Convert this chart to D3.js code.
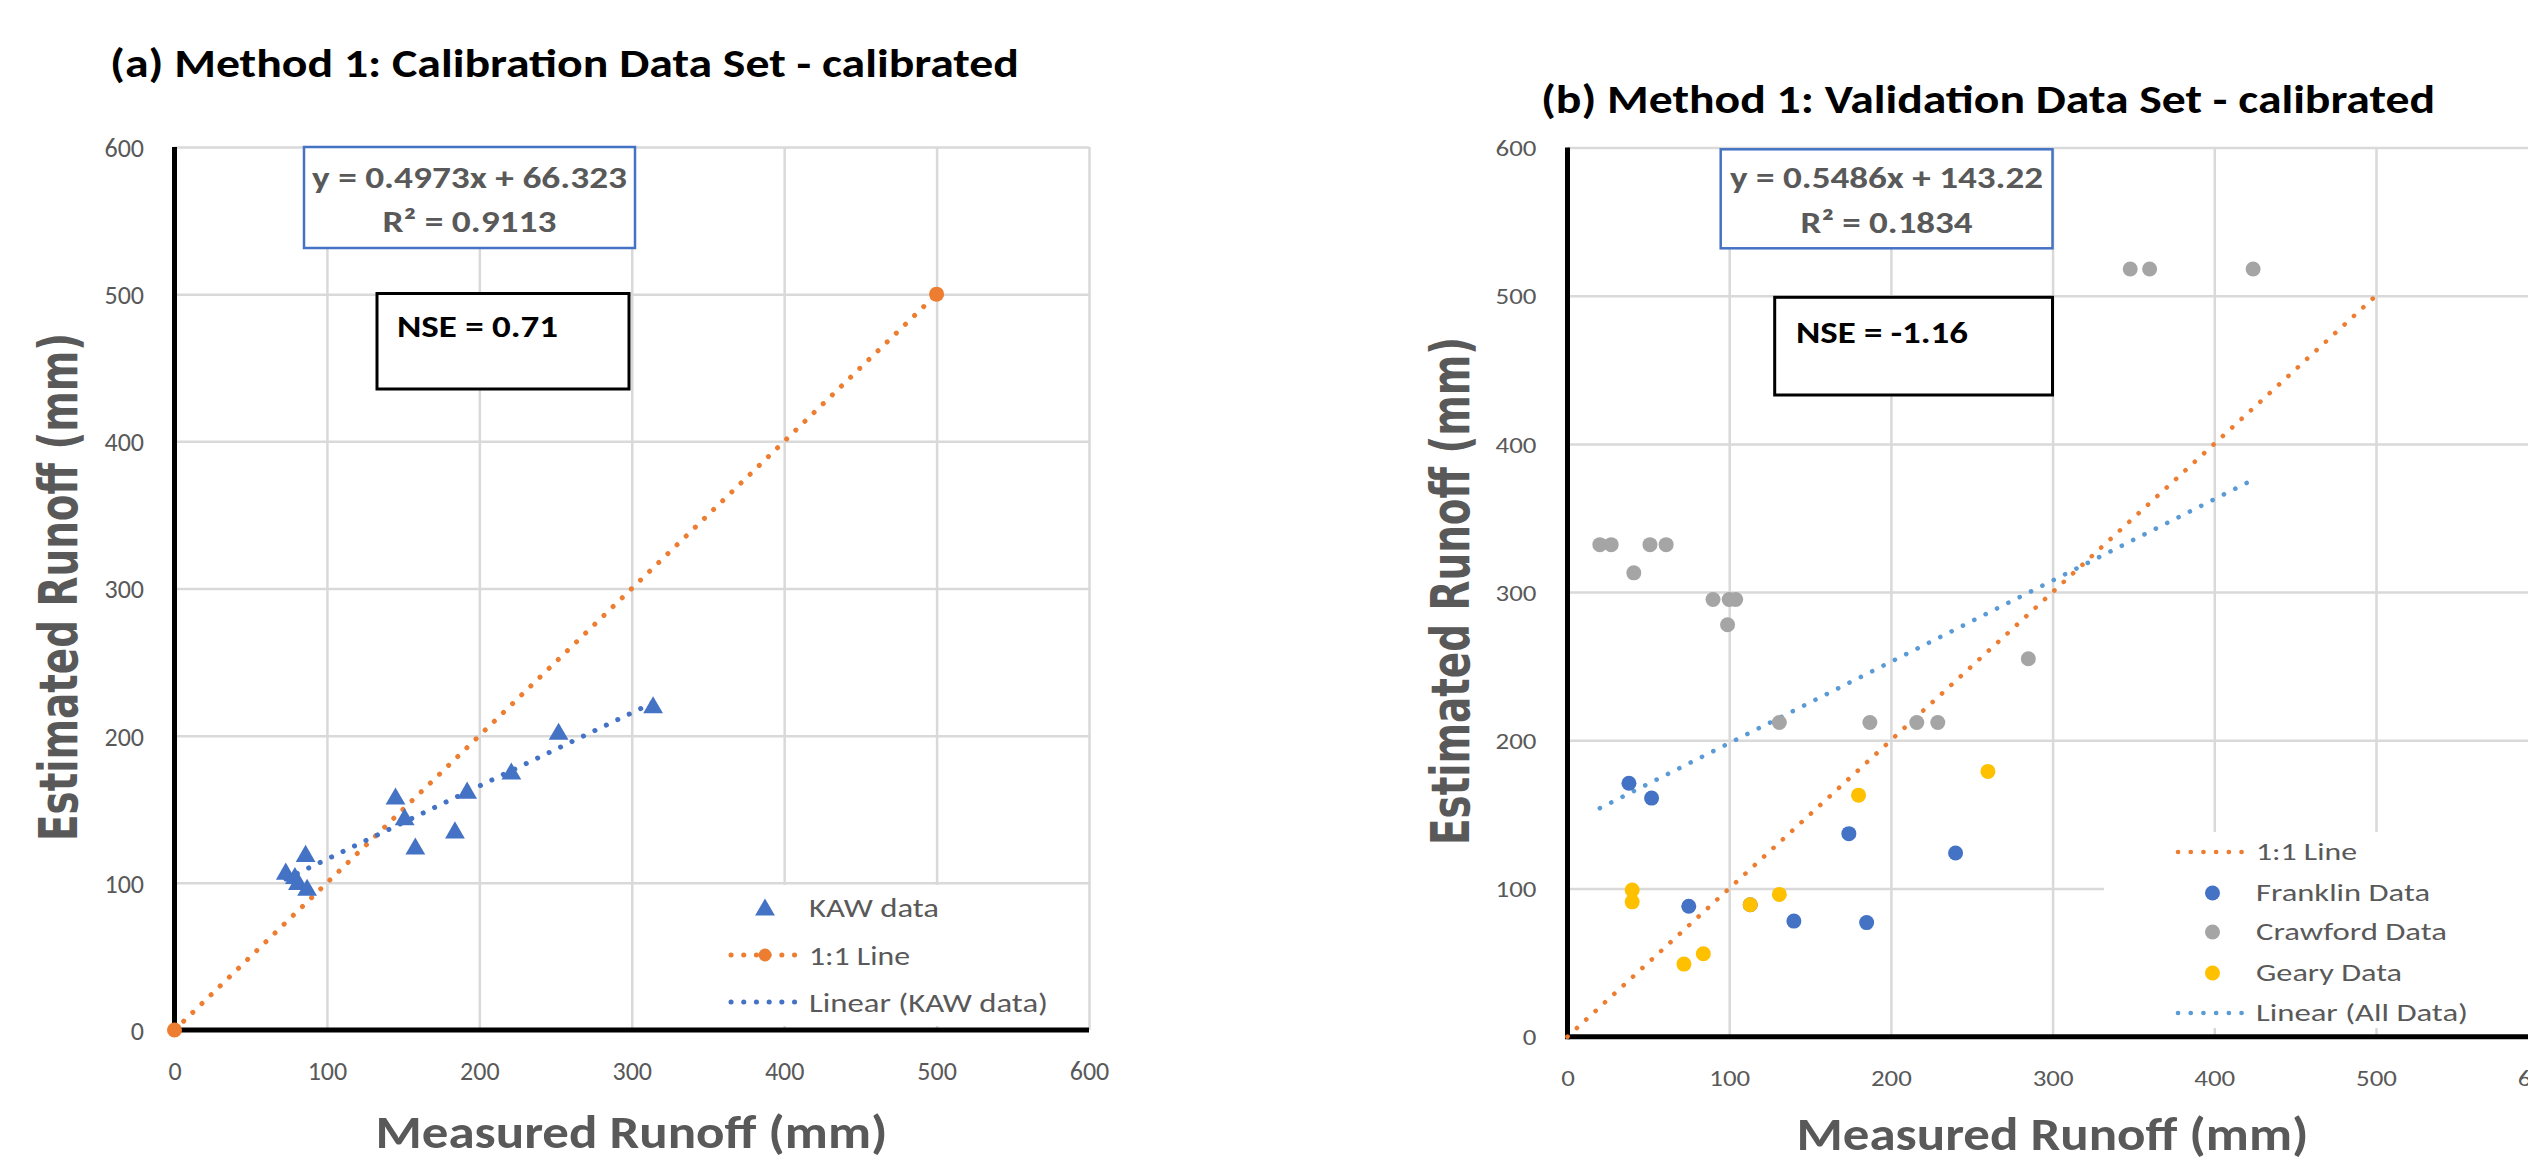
<!DOCTYPE html>
<html>
<head>
<meta charset="utf-8">
<script src="https://cdn.jsdelivr.net/npm/d3@7"></script>
<style>
  body { margin: 0; background: #fff; }
  svg { display: block; }
</style>
</head>
<body>
<svg id="fig" width="2528" height="1163"></svg>
<script>
// ---------- data ----------
const axisTicks = [0, 100, 200, 300, 400, 500, 600];

// (a) calibration set - KAW
const kawMeasured  = [73, 79, 81, 86, 87, 145, 151, 158, 184, 192, 221, 252, 314];
const kawEstimated = [108, 105, 101, 120, 97, 159, 145, 125, 136, 163, 176, 203, 221];
const oneToOneA = [0, 500];
const trendA = [0.4973, 66.323];   // slope, intercept
const r2A = '0.9113';
const nseA = '0.71';

// (b) validation set
const franklinMeasured  = [38, 52, 75, 113, 140, 174, 185, 240];
const franklinEstimated = [171, 161, 88, 89, 78, 137, 77, 124];
const crawfordMeasured  = [20, 27, 41, 51, 61, 90, 100, 104, 99, 131, 187, 216, 229, 285, 348, 360, 424];
const crawfordEstimated = [332, 332, 313, 332, 332, 295, 295, 295, 278, 212, 212, 212, 212, 255, 518, 518, 518];
const gearyMeasured  = [40, 40, 72, 84, 113, 131, 180, 260];
const gearyEstimated = [99, 91, 49, 56, 89, 96, 163, 179];
const oneToOneB = [0, 500];
const trendB = [0.5486, 143.22];
const r2B = '0.1834';
const nseB = '-1.16';

// ---------- styling ----------
const GRID = '#d9d9d9', TXT = '#595959';
const ORANGE = '#ED7D31', BLUE = '#4472C4', LBLUE = '#5B9BD5', GRAY = '#A5A5A5', GOLD = '#FFC000';
const SANS = 'Carlito, Lato, sans-serif';

const svg = d3.select('#fig');
const zip = (xs, ys) => xs.map((v, i) => ({x: v, y: ys[i]}));
// excel "round dot" pattern
const dotted = (sel, w) => sel.attr('fill', 'none').attr('stroke-width', w)
    .attr('stroke-linecap', 'round').attr('stroke-dasharray', '0.1 12.6');
// squeeze / stretch a text to the width it has in the figure
const fit = (sel, w) => sel.attr('textLength', w).attr('lengthAdjust', 'spacingAndGlyphs');

function drawFrame(box) {
    const x = d3.scaleLinear([0, 600], [box.left, box.right]);
    const y = d3.scaleLinear([0, 600], [box.bottom, box.top]);

    // gridlines
    svg.append('g').attr('transform', `translate(0,${box.bottom})`)
        .call(d3.axisBottom(x).tickValues(axisTicks.slice(1)).tickSize(-(box.bottom - box.top)).tickFormat(''))
        .call(g => g.select('.domain').remove())
        .call(g => g.selectAll('line').attr('stroke', GRID).attr('stroke-width', 2.5));
    svg.append('g').attr('transform', `translate(${box.left},0)`)
        .call(d3.axisLeft(y).tickValues(axisTicks.slice(1)).tickSize(-(box.right - box.left)).tickFormat(''))
        .call(g => g.select('.domain').remove())
        .call(g => g.selectAll('line').attr('stroke', GRID).attr('stroke-width', 2.5));

    // tick labels
    svg.append('g').attr('transform', `translate(0,${box.bottom})`)
        .call(d3.axisBottom(x).tickValues(axisTicks).tickSize(0))
        .call(g => g.select('.domain').remove())
        .call(g => g.selectAll('text').attr('y', box.xLabelOff).attr('dy', '0.36em')
            .attr('font-family', SANS).attr('font-size', box.tickFont).attr('fill', TXT)
            .attr('transform', `scale(${box.sx},1)`));
    svg.append('g').attr('transform', `translate(${box.left},0)`)
        .call(d3.axisLeft(y).tickValues(axisTicks).tickSize(0))
        .call(g => g.select('.domain').remove())
        .call(g => g.selectAll('text').attr('x', -box.yLabelGap / box.sx).attr('dy', '0.36em')
            .attr('font-family', SANS).attr('font-size', box.tickFont).attr('fill', TXT)
            .attr('transform', `scale(${box.sx},1)`));

    // black axis lines
    svg.append('line').attr('x1', x(0)).attr('x2', x(600)).attr('y1', y(0)).attr('y2', y(0))
        .attr('stroke', '#000').attr('stroke-width', 5);
    svg.append('line').attr('x1', x(0)).attr('x2', x(0)).attr('y1', y(600)).attr('y2', y(0) + 2.5)
        .attr('stroke', '#000').attr('stroke-width', 5);

    // titles
    svg.append('text').attr('x', box.titleX).attr('y', box.titleY)
        .attr('font-family', SANS).attr('font-weight', 'bold').attr('font-size', 41).attr('fill', '#000')
        .call(fit, box.titleW)
        .text(box.title);
    svg.append('text').attr('x', (box.left + box.xTitleC)).attr('y', box.xTitleY)
        .attr('text-anchor', 'middle')
        .attr('font-family', SANS).attr('font-weight', 'bold').attr('font-size', 47).attr('fill', TXT)
        .call(fit, 512)
        .text('Measured Runoff (mm)');
    svg.append('text').attr('transform', `translate(${box.yTitleX},${box.yTitleC}) rotate(-90)`)
        .attr('text-anchor', 'middle')
        .attr('font-family', 'DejaVu Sans, Verdana, sans-serif').attr('font-weight', 'bold')
        .attr('font-size', 54).attr('fill', TXT)
        .call(fit, 508)
        .text('Estimated Runoff (mm)');
    return {x, y};
}

function trendPoints(xs, coef) {
    const [lo, hi] = d3.extent(xs);
    return [lo, hi].map(v => ({x: v, y: coef[0] * v + coef[1]}));
}

function drawLine(sc, pts, color, w) {
    svg.append('path').datum(pts)
        .attr('d', d3.line(d => sc.x(d.x), d => sc.y(d.y)))
        .attr('stroke', color).call(dotted, w);
}

function drawBoxes(b) {
    // regression equation box
    svg.append('rect').attr('x', b.eq[0]).attr('y', b.eq[1]).attr('width', b.eq[2] - b.eq[0]).attr('height', b.eq[3] - b.eq[1])
        .attr('fill', '#fff').attr('stroke', BLUE).attr('stroke-width', 2.5);
    const cx = (b.eq[0] + b.eq[2]) / 2;
    svg.append('text').attr('x', cx).attr('y', b.eqBase[0]).attr('text-anchor', 'middle')
        .attr('font-family', SANS).attr('font-weight', 'bold').attr('font-size', 31).attr('fill', TXT)
        .call(fit, b.eqW[0])
        .text(`y = ${b.coef[0]}x + ${b.coef[1]}`);
    svg.append('text').attr('x', cx).attr('y', b.eqBase[1]).attr('text-anchor', 'middle')
        .attr('font-family', SANS).attr('font-weight', 'bold').attr('font-size', 31).attr('fill', TXT)
        .call(fit, b.eqW[1])
        .text(`R\u00B2 = ${b.r2}`);
    // NSE box
    svg.append('rect').attr('x', b.nse[0]).attr('y', b.nse[1]).attr('width', b.nse[2] - b.nse[0]).attr('height', b.nse[3] - b.nse[1])
        .attr('fill', '#fff').attr('stroke', '#000').attr('stroke-width', 3);
    svg.append('text').attr('x', b.nseText[0]).attr('y', b.nseText[1])
        .attr('font-family', SANS).attr('font-weight', 'bold').attr('font-size', 31).attr('fill', '#000')
        .call(fit, b.nseW)
        .text(`NSE = ${b.nseVal}`);
}

function drawLegend(lg) {
    svg.append('rect').attr('x', lg.x).attr('y', lg.y).attr('width', lg.w).attr('height', lg.h).attr('fill', '#fff');
    lg.rows.forEach((r, i) => {
        const cy = lg.rowY[i];
        if (r.line) {
            svg.append('line').attr('x1', lg.lineX[0]).attr('x2', lg.lineX[1]).attr('y1', cy).attr('y2', cy)
                .attr('stroke', r.line).call(dotted, lg.dotW);
        }
        if (r.symbol) {
            svg.append('path').attr('d', d3.symbol(r.symbol, r.size)())
                .attr('transform', `translate(${lg.markX},${cy + (r.dy || 0)})`).attr('fill', r.fill);
        }
        svg.append('text').attr('x', lg.textX).attr('y', cy)
            .attr('dy', '0.36em')
            .attr('font-family', SANS).attr('font-size', lg.font).attr('fill', TXT)
            .call(fit, r.w)
            .text(r.label);
    });
}

// ---------- (a) calibration ----------
const boxA = {left: 174.5, right: 1089, top: 147, bottom: 1030,
    tickFont: 26, sx: 1, xLabelOff: 41, yLabelGap: 30.5,
    title: '(a) Method 1: Calibration Data Set - calibrated', titleX: 110, titleY: 76.5, titleW: 909,
    xTitleC: 457, xTitleY: 1148, yTitleX: 77, yTitleC: 587};
const scA = drawFrame(boxA);

drawLine(scA, oneToOneA.map(v => ({x: v, y: v})), ORANGE, 5);
svg.selectAll('.end-a').data(oneToOneA).join('circle')
    .attr('cx', d => scA.x(d)).attr('cy', d => scA.y(d)).attr('r', 7.5).attr('fill', ORANGE);
drawLine(scA, trendPoints(kawMeasured, trendA), BLUE, 5);

const triSize = 170;
const triShift = Math.sqrt(triSize / (Math.sqrt(3) * 3)) / 2;
svg.selectAll('.kaw').data(zip(kawMeasured, kawEstimated)).join('path')
    .attr('d', d3.symbol(d3.symbolTriangle, triSize)())
    .attr('transform', d => `translate(${scA.x(d.x)},${scA.y(d.y) + triShift})`)
    .attr('fill', BLUE);

drawLegend({x: 688, y: 885, w: 400, h: 141, lineX: [731, 799], markX: 765, textX: 809,
    rowY: [907, 955, 1002], font: 26.5, dotW: 5,
    rows: [
        {label: 'KAW data', w: 130, symbol: d3.symbolTriangle, size: triSize, fill: BLUE, dy: triShift},
        {label: '1:1 Line', w: 101, line: ORANGE, symbol: d3.symbolCircle, size: 130, fill: ORANGE},
        {label: 'Linear (KAW data)', w: 239, line: BLUE}
    ]});

drawBoxes({eq: [304, 147, 635, 248], eqBase: [188, 232], eqW: [315, 174], coef: trendA, r2: r2A,
    nse: [377, 293.5, 629, 389], nseText: [397, 337], nseW: 161, nseVal: nseA});

// ---------- (b) validation ----------
const boxB = {left: 1567.5, right: 2537.7, top: 147.5, bottom: 1036.7,
    tickFont: 23, sx: 1.17, xLabelOff: 41.5, yLabelGap: 31,
    title: '(b) Method 1: Validation Data Set - calibrated', titleX: 1541, titleY: 113, titleW: 894,
    xTitleC: 485, xTitleY: 1150, yTitleX: 1469, yTitleC: 591};
const scB = drawFrame(boxB);

drawLine(scB, oneToOneB.map(v => ({x: v, y: v})), ORANGE, 4.6);
drawLine(scB, trendPoints(franklinMeasured.concat(crawfordMeasured, gearyMeasured), trendB), LBLUE, 4.6);

[[franklinMeasured, franklinEstimated, BLUE],
 [crawfordMeasured, crawfordEstimated, GRAY],
 [gearyMeasured, gearyEstimated, GOLD]].forEach(([xs, ys, col]) => {
    svg.append('g').selectAll('circle').data(zip(xs, ys)).join('circle')
        .attr('cx', d => scB.x(d.x)).attr('cy', d => scB.y(d.y)).attr('r', 7.5).attr('fill', col);
});

drawLegend({x: 2104, y: 832, w: 430, h: 196, lineX: [2178, 2246], markX: 2212.5, textX: 2256,
    rowY: [852, 893, 932, 973, 1013], font: 23.5, dotW: 4.6,
    rows: [
        {label: '1:1 Line', w: 101, line: ORANGE},
        {label: 'Franklin Data', w: 174, symbol: d3.symbolCircle, size: 177, fill: BLUE},
        {label: 'Crawford Data', w: 191, symbol: d3.symbolCircle, size: 177, fill: GRAY},
        {label: 'Geary Data', w: 146, symbol: d3.symbolCircle, size: 177, fill: GOLD},
        {label: 'Linear (All Data)', w: 212, line: LBLUE}
    ]});

drawBoxes({eq: [1720.7, 149.3, 2052.5, 248.3], eqBase: [188.3, 233.3], eqW: [313, 172], coef: trendB, r2: r2B,
    nse: [1774.7, 297.3, 2052.5, 395], nseText: [1796, 342.7], nseW: 172, nseVal: nseB});
</script>
</body>
</html>
